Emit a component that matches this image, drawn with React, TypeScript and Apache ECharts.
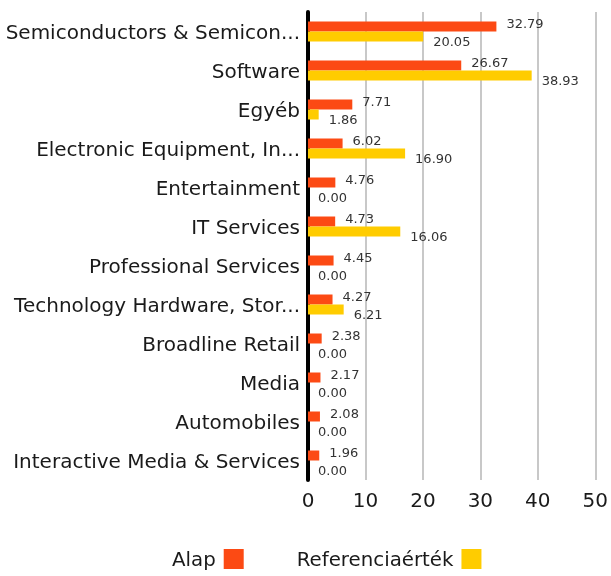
import React, { useEffect, useRef } from "react";
import * as echarts from "echarts";

const categories = [
  "Semiconductors & Semicon...",
  "Software",
  "Egyéb",
  "Electronic Equipment, In...",
  "Entertainment",
  "IT Services",
  "Professional Services",
  "Technology Hardware, Stor...",
  "Broadline Retail",
  "Media",
  "Automobiles",
  "Interactive Media & Services",
];
const alapValues = [32.79, 26.67, 7.71, 6.02, 4.76, 4.73, 4.45, 4.27, 2.38, 2.17, 2.08, 1.96];
const referenciaValues = [20.05, 38.93, 1.86, 16.9, 0.0, 16.06, 0.0, 6.21, 0.0, 0.0, 0.0, 0.0];
const seriesNames = ["Alap", "Referenciaérték"];
const colors = ["#FC4A14", "#FFCC00"];
const FONT = "DejaVu Sans";

export default function App() {
  const ref = useRef<HTMLDivElement>(null);
  useEffect(() => {
    if (!ref.current) return;
    const chart = echarts.init(ref.current, undefined, { renderer: "svg" });
    chart.setOption({
      animation: false,
      textStyle: { fontFamily: FONT },
      grid: { left: 308, right: 12, top: 12, bottom: 96, containLabel: false },
      legend: {
        bottom: 2,
        left: 167,
        align: "right",
        itemWidth: 20,
        itemHeight: 20,
        itemGap: 53,
        icon: "rect",
        textStyle: { fontSize: 19.8, color: "#1a1a1a", fontFamily: FONT, padding: [0, 3, 0, 0] },
        data: seriesNames,
      },
      xAxis: {
        type: "value",
        min: 0,
        max: 50,
        interval: 10,
        axisLine: { show: false },
        axisTick: { show: false },
        splitLine: { lineStyle: { color: "#c8c8c8", width: 2 } },
        axisLabel: { fontSize: 20, color: "#1a1a1a", margin: 10, fontFamily: FONT },
      },
      yAxis: {
        type: "category",
        inverse: true,
        data: categories,
        axisLine: { show: true, lineStyle: { color: "#000", width: 4 } },
        axisTick: { show: false },
        axisLabel: {
          fontSize: 20,
          color: "#1a1a1a",
          margin: 8,
          fontFamily: FONT,
        },
      },
      series: [
        {
          name: seriesNames[0],
          type: "bar",
          data: alapValues,
          barWidth: 10,
          barGap: "0%",
          itemStyle: { color: colors[0] },
          label: {
            show: true,
            position: "right",
            distance: 10,
            offset: [0, -3],
            fontSize: 13,
            color: "#333",
            fontFamily: FONT,
            formatter: (p: any) => p.value.toFixed(2),
          },
        },
        {
          name: seriesNames[1],
          type: "bar",
          data: referenciaValues,
          barWidth: 10,
          barGap: "0%",
          itemStyle: { color: colors[1] },
          label: {
            show: true,
            position: "right",
            distance: 10,
            offset: [0, 5],
            fontSize: 13,
            color: "#333",
            fontFamily: FONT,
            formatter: (p: any) => p.value.toFixed(2),
          },
        },
      ],
    });
    return () => chart.dispose();
  }, []);
  return (
    <div
      ref={ref}
      style={{ position: "fixed", left: 0, top: 0, width: 611, height: 576 }}
    />
  );
}
